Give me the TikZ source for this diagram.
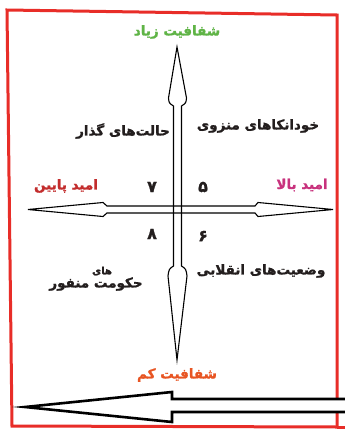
\documentclass[tikz,border=0pt]{standalone}
\usepackage{fontspec}
\TeXXeTstate=1
\newfontfamily\fa[Script=Arabic,BoldFont={DejaVu Sans Bold},BoldFeatures={FakeBold=1.2}]{DejaVu Sans}
\definecolor{bordred}{RGB}{232,45,40}
\definecolor{tgreen}{RGB}{95,180,70}
\definecolor{tred}{RGB}{195,45,45}
\definecolor{tmag}{RGB}{200,50,125}
\definecolor{torange}{RGB}{232,85,35}
\definecolor{tdark}{RGB}{35,30,30}
\begin{document}
\begin{tikzpicture}[x=1pt,y=-1pt,
  lbl/.style={font=\fa\bfseries\fontsize{13.5}{15}\selectfont, inner sep=0pt, text=tdark},
  small/.style={font=\fa\bfseries\fontsize{10}{12}\selectfont, inner sep=0pt, text=tdark},
  digit/.style={font=\fa\bfseries\fontsize{16}{18}\selectfont, inner sep=0pt, text=tdark},
  axis/.style={draw=black, line width=1.1pt, line join=miter},
  bigarrow/.style={draw=black, line width=2.6pt, line join=miter}]
\useasboundingbox (0,0) rectangle (345,429);
\fill[white] (0,0) rectangle (345,429);
% red frame
\draw[bordred, line width=3pt, line join=miter] (7,10) -- (337,15) -- (337,427) -- (12,426) -- cycle;
\draw[bordred, line width=3pt] (337,427) -- (345,427);
% vertical axis arrow
\draw[axis] (177,47) -- (186.5,98) .. controls (186,103) .. (181.5,106) -- (181.5,266)
  .. controls (186,269) .. (187,276) -- (177,360) -- (168,276) .. controls (169,269) .. (173.5,266)
  -- (173.5,106) .. controls (169,103) .. (168.5,98) -- cycle;
% horizontal axis arrow
\draw[axis] (28,209.5) -- (103,202.5) -- (107,206) -- (255,206) -- (258,202.5) -- (333,209.5)
  -- (258,216.5) -- (255,213) -- (107,213) -- (103,216.5) -- cycle;
% bottom big arrow
\fill[white] (345,399) -- (172,399) -- (172,392) -- (25,407) -- (172,422) -- (172,412) -- (345,412) -- cycle;
\draw[bigarrow] (346,399) -- (172,399) -- (172,392) -- (25,407) -- (172,422) -- (172,412) -- (346,412);
% labels
\node[lbl, text=tgreen] (top) at (177,32) {\beginR شفافیت زیاد\endR};
\node[lbl, text=torange] (bot) at (177,375) {\beginR شفافیت کم\endR};
\node[lbl, text=tred] (left) at (66,186) {\beginR امید پایین\endR};
\node[lbl, text=tmag] (right) at (302,185) {\beginR امید بالا\endR};
\node[lbl] (q1) at (258,126) {\beginR خودانکاهای منزوی\endR};
\node[lbl] (q2) at (123,131) {\beginR حالت‌های گذار\endR};
\node[lbl] (q3) at (261,271) {\beginR وضعیت‌های انقلابی\endR};
\node[lbl] (q4) at (96,284) {\beginR حکومت منفور\endR};
\node[small] (q4b) at (102,271) {\beginR های\endR};
\node[digit] (d7) at (152,187) {۷};
\node[digit] (d5) at (203,187) {۵};
\node[digit] (d8) at (152,234) {۸};
\node[digit] (d6) at (203,236) {۶};
\end{tikzpicture}
\end{document}
